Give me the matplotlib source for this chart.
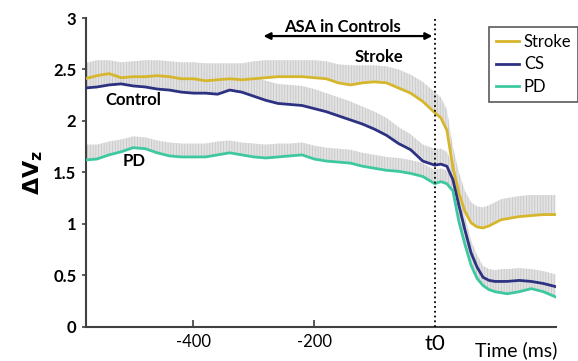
import numpy as np
import matplotlib
matplotlib.use("Agg")
import matplotlib.pyplot as plt

plt.rcParams['font.family'] = ['Lato', 'DejaVu Sans']
plt.rcParams['hatch.linewidth'] = 0.6
plt.rcParams['hatch.color'] = '#c8c8c8'

# time axis (ms), t0 = 0
t = [-580, -560, -540, -520, -500, -480, -460, -440, -420, -400,
     -380, -360, -340, -320, -300, -280, -260, -240, -220, -200,
     -180, -160, -140, -120, -100, -80, -60, -40, -20, 0,
     10, 20, 30, 40, 50, 60, 70, 80, 90, 100,
     110, 120, 140, 160, 180, 200]

stroke = [2.41, 2.44, 2.46, 2.42, 2.43, 2.43, 2.44, 2.43, 2.41, 2.41,
          2.39, 2.40, 2.41, 2.40, 2.41, 2.42, 2.43, 2.43, 2.43, 2.42,
          2.41, 2.37, 2.35, 2.37, 2.38, 2.37, 2.32, 2.27, 2.19, 2.08,
          2.03, 1.91, 1.55, 1.30, 1.12, 1.01, 0.97, 0.96, 0.98, 1.01,
          1.04, 1.05, 1.07, 1.08, 1.09, 1.09]
control = [2.32, 2.33, 2.35, 2.36, 2.34, 2.33, 2.31, 2.30, 2.28, 2.27,
           2.27, 2.26, 2.30, 2.28, 2.24, 2.20, 2.17, 2.16, 2.15, 2.12,
           2.09, 2.05, 2.01, 1.97, 1.92, 1.86, 1.78, 1.72, 1.61, 1.57,
           1.58, 1.56, 1.43, 1.18, 0.94, 0.72, 0.58, 0.48, 0.45, 0.44,
           0.44, 0.44, 0.45, 0.44, 0.42, 0.39]
pd_ = [1.62, 1.63, 1.67, 1.70, 1.74, 1.73, 1.69, 1.66, 1.65, 1.65,
       1.65, 1.67, 1.69, 1.67, 1.65, 1.64, 1.65, 1.66, 1.67, 1.63,
       1.61, 1.60, 1.59, 1.56, 1.54, 1.52, 1.51, 1.49, 1.46, 1.39,
       1.41, 1.39, 1.32, 1.02, 0.80, 0.60, 0.47, 0.40, 0.36, 0.34,
       0.33, 0.32, 0.34, 0.37, 0.34, 0.29]

# upper error (SE)
stroke_err = [0.15, 0.15, 0.13, 0.15, 0.15, 0.16, 0.15, 0.15, 0.16, 0.16,
              0.17, 0.16, 0.15, 0.16, 0.17, 0.17, 0.16, 0.16, 0.16, 0.17,
              0.17, 0.18, 0.19, 0.17, 0.16, 0.16, 0.18, 0.18, 0.19, 0.20,
              0.20, 0.20, 0.20, 0.20, 0.20, 0.20, 0.20, 0.20, 0.20, 0.20,
              0.20, 0.20, 0.20, 0.20, 0.19, 0.19]
control_err = [0.17, 0.17, 0.17, 0.17, 0.18, 0.18, 0.18, 0.18, 0.18, 0.18,
               0.18, 0.18, 0.17, 0.18, 0.19, 0.19, 0.19, 0.19, 0.19, 0.19,
               0.18, 0.18, 0.18, 0.17, 0.17, 0.17, 0.16, 0.15, 0.16, 0.16,
               0.15, 0.14, 0.14, 0.14, 0.13, 0.12, 0.12, 0.11, 0.11, 0.11,
               0.12, 0.12, 0.12, 0.12, 0.12, 0.12]
pd_err = [0.15, 0.14, 0.13, 0.12, 0.11, 0.11, 0.12, 0.13, 0.13, 0.13,
          0.13, 0.13, 0.12, 0.12, 0.13, 0.13, 0.13, 0.12, 0.12, 0.13,
          0.13, 0.13, 0.13, 0.13, 0.13, 0.13, 0.13, 0.13, 0.13, 0.13,
          0.13, 0.13, 0.13, 0.12, 0.12, 0.11, 0.11, 0.10, 0.10, 0.10,
          0.10, 0.10, 0.10, 0.10, 0.10, 0.10]

names = ["Stroke", "CS", "PD"]
colors = ["#d6b62c", "#2c3182", "#3ec8a0"]

fig = plt.figure(figsize=(5.78, 3.61), dpi=100)
ax = fig.add_axes([0.149, 0.095, 0.813, 0.855])

series = [(stroke, stroke_err), (control, control_err), (pd_, pd_err)]
tt = np.array(t)
for (y, e) in series:
    y = np.array(y)
    e = np.array(e)
    ax.fill_between(tt, y, y + e, facecolor='#e2e2e2', edgecolor='#c8c8c8',
                    hatch='||||||', linewidth=0, zorder=1)
for (y, e), c, n in zip(series, colors, names):
    ax.plot(tt, y, color=c, lw=2, label=n, zorder=3)

ax.axvline(0, color='black', ls=':', lw=1.3, zorder=4)

ax.set_xlim(-578, 201)
ax.set_ylim(0, 3)
ax.set_yticks([0, 0.5, 1, 1.5, 2, 2.5, 3])
ax.set_yticklabels(["0", "0.5", "1", "1.5", "2", "2.5", "3"], fontweight='bold', fontsize=12)
ax.set_xticks([-400, -200, 0])
ax.set_xticklabels(["-400", "-200", "t0"], fontsize=12)
ax.get_xticklabels()[2].set_fontsize(16)
ax.tick_params(axis='y', direction='out', length=3, width=1.2, color='#404040', pad=4)
ax.tick_params(axis='x', direction='in', length=5, width=1.2, color='#404040', pad=5)
ax.xaxis.get_major_ticks()[2].tick1line.set_visible(False)
for s in ['top', 'right']:
    ax.spines[s].set_visible(False)
for s in ['left', 'bottom']:
    ax.spines[s].set_color('#404040')
    ax.spines[s].set_linewidth(1.5)

ax.set_ylabel(r"$\mathbf{\Delta V_z}$", fontsize=16, labelpad=6)
fig.text(0.822, 0.03, "Time (ms)", fontsize=14, ha='left', va='center')

ax.annotate("", xy=(-284, 2.825), xytext=(-4, 2.825),
            arrowprops=dict(arrowstyle='<|-|>', color='black', lw=1.6,
                            mutation_scale=10, shrinkA=0, shrinkB=0))
ax.text(-153, 2.915, "ASA in Controls", fontsize=12, fontweight='bold',
        ha='center', va='center')
ax.text(-93, 2.62, "Stroke", fontsize=12, fontweight='bold', ha='center', va='center')
ax.text(-499, 2.20, "Control", fontsize=12, fontweight='bold', ha='center', va='center')
ax.text(-498, 1.61, "PD", fontsize=12, fontweight='bold', ha='center', va='center')

leg = fig.legend(loc='upper left', bbox_to_anchor=(0.846, 0.925), fontsize=12,
                 frameon=True, fancybox=False, handlelength=1.4, handletextpad=0.3,
                 borderpad=0.4, labelspacing=0.4, borderaxespad=0)
leg.get_frame().set_edgecolor('#303030')
leg.get_frame().set_linewidth(1.2)

fig.savefig("out.png", dpi=100)
